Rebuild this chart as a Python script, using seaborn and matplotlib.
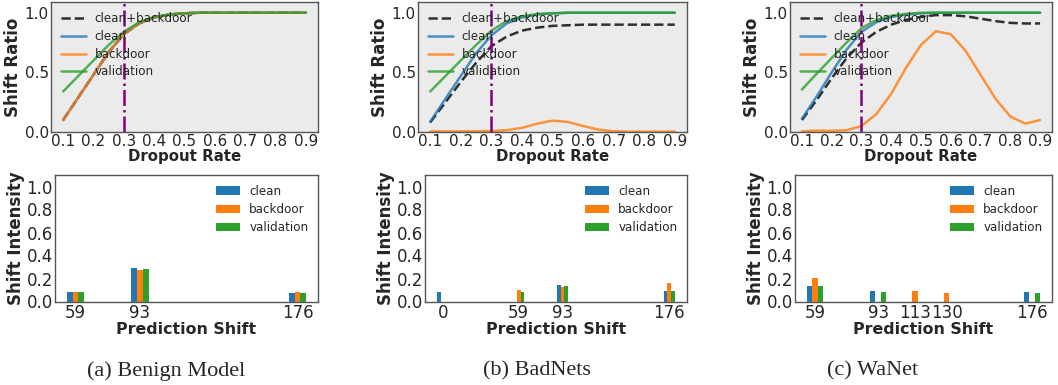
import numpy as np
import matplotlib
matplotlib.use("Agg")
import matplotlib.pyplot as plt
import seaborn as sns

# ---------------- data ----------------
dropout = [0.10, 0.15, 0.20, 0.25, 0.30, 0.35, 0.40, 0.45, 0.50,
           0.55, 0.60, 0.65, 0.70, 0.75, 0.80, 0.85, 0.90]

# (a) Benign model
benign_mix = [0.10, 0.29, 0.48, 0.67, 0.82, 0.91, 0.96, 0.985, 0.995,
              1.0, 1.0, 1.0, 1.0, 1.0, 1.0, 1.0, 1.0]
benign_clean = [0.10, 0.29, 0.48, 0.67, 0.82, 0.91, 0.96, 0.985, 0.995,
                1.0, 1.0, 1.0, 1.0, 1.0, 1.0, 1.0, 1.0]
benign_backdoor = [0.10, 0.29, 0.48, 0.67, 0.82, 0.91, 0.96, 0.985, 0.995,
                   1.0, 1.0, 1.0, 1.0, 1.0, 1.0, 1.0, 1.0]
benign_val = [0.34, 0.47, 0.60, 0.73, 0.84, 0.92, 0.965, 0.985, 0.995,
              1.0, 1.0, 1.0, 1.0, 1.0, 1.0, 1.0, 1.0]

# (b) BadNets
badnets_mix = [0.08, 0.25, 0.42, 0.58, 0.72, 0.80, 0.85, 0.875, 0.89,
               0.895, 0.90, 0.90, 0.90, 0.90, 0.90, 0.90, 0.90]
badnets_clean = [0.085, 0.28, 0.47, 0.66, 0.81, 0.91, 0.96, 0.985, 0.995,
                 1.0, 1.0, 1.0, 1.0, 1.0, 1.0, 1.0, 1.0]
badnets_backdoor = [0.005, 0.005, 0.005, 0.006, 0.008, 0.015, 0.035, 0.07, 0.095,
                    0.085, 0.05, 0.02, 0.006, 0.003, 0.003, 0.003, 0.003]
badnets_val = [0.34, 0.47, 0.60, 0.73, 0.85, 0.93, 0.97, 0.99, 0.995,
               1.0, 1.0, 1.0, 1.0, 1.0, 1.0, 1.0, 1.0]

# (c) WaNet
wanet_mix = [0.10, 0.27, 0.45, 0.62, 0.75, 0.84, 0.90, 0.94, 0.965,
             0.98, 0.98, 0.97, 0.95, 0.93, 0.915, 0.91, 0.91]
wanet_clean = [0.11, 0.30, 0.50, 0.69, 0.84, 0.92, 0.965, 0.985, 0.995,
               1.0, 1.0, 1.0, 1.0, 1.0, 1.0, 1.0, 1.0]
wanet_backdoor = [0.005, 0.012, 0.01, 0.015, 0.05, 0.15, 0.32, 0.54, 0.73,
                  0.845, 0.82, 0.68, 0.48, 0.28, 0.13, 0.07, 0.10]
wanet_val = [0.356, 0.49, 0.62, 0.75, 0.87, 0.94, 0.975, 0.99, 1.0,
             1.0, 1.0, 1.0, 1.0, 1.0, 1.0, 1.0, 1.0]

# bar charts: prediction shift -> intensity
benign_shift = [59, 93, 176]
benign_bar_clean = [0.08, 0.29, 0.07]
benign_bar_backdoor = [0.08, 0.27, 0.08]
benign_bar_val = [0.08, 0.28, 0.07]

badnets_shift = [0, 59, 93, 176]
badnets_bar_clean = [0.08, 0.0, 0.145, 0.09]
badnets_bar_backdoor = [0.0, 0.10, 0.13, 0.16]
badnets_bar_val = [0.0, 0.08, 0.135, 0.09]

wanet_shift = [59, 93, 113, 130, 176]
wanet_bar_clean = [0.135, 0.09, 0.0, 0.0, 0.085]
wanet_bar_backdoor = [0.205, 0.0, 0.09, 0.07, 0.0]
wanet_bar_val = [0.135, 0.085, 0.0, 0.0, 0.07]

captions = ["(a) Benign Model", "(b) BadNets", "(c) WaNet"]
threshold = 0.3

# ---------------- style ----------------
sns.set_style("white")
plt.rcParams["font.family"] = ["DejaVu Sans"]

blue, orange, green = sns.color_palette("tab10")[:3]

W, H = 1058, 385
fig = plt.figure(figsize=(W / 100, H / 100), dpi=100)

top_boxes = [(51, 318), (418, 687), (790, 1052)]
bot_boxes = [(55, 318), (425, 687), (795, 1052)]
top_y = (2, 132)
bot_y = (175, 301.5)


def make_ax(xb, yb):
    return fig.add_axes([xb[0] / W, 1 - yb[1] / H, (xb[1] - xb[0]) / W,
                         (yb[1] - yb[0]) / H])


line_sets = [
    (benign_mix, benign_clean, benign_backdoor, benign_val),
    (badnets_mix, badnets_clean, badnets_backdoor, badnets_val),
    (wanet_mix, wanet_clean, wanet_backdoor, wanet_val),
]
bar_sets = [
    (benign_shift, benign_bar_clean, benign_bar_backdoor, benign_bar_val),
    (badnets_shift, badnets_bar_clean, badnets_bar_backdoor, badnets_bar_val),
    (wanet_shift, wanet_bar_clean, wanet_bar_backdoor, wanet_bar_val),
]
caption_x = [166, 537, 873]

for i in range(3):
    # ---- top: shift ratio curves ----
    ax = make_ax(top_boxes[i], top_y)
    ax.set_facecolor("#EBEBEB")
    mix, cl, bd, va = line_sets[i]
    sns.lineplot(x=dropout, y=mix, ax=ax, color="black", alpha=0.8,
                 linestyle="--", lw=1.8, label="clean+backdoor")
    sns.lineplot(x=dropout, y=cl, ax=ax, color=blue, alpha=0.8, lw=1.8,
                 label="clean")
    sns.lineplot(x=dropout, y=bd, ax=ax, color=orange, alpha=0.8, lw=1.8,
                 label="backdoor")
    sns.lineplot(x=dropout, y=va, ax=ax, color=green, alpha=0.8, lw=1.8,
                 label="validation")
    ax.axvline(threshold, color="purple", linestyle="-.", lw=1.8)
    ax.set_ylim(0, 1.09)
    ax.set_xticks([0.1, 0.2, 0.3, 0.4, 0.5, 0.6, 0.7, 0.8, 0.9])
    ax.set_yticks([0.0, 0.5, 1.0])
    ax.tick_params(axis="both", length=0, labelsize=11, pad=1.5)
    ax.set_xlabel("Dropout Rate", fontsize=10.8, fontweight="bold", labelpad=0)
    ax.set_ylabel("Shift Ratio", fontsize=12, fontweight="bold", labelpad=2)
    ax.legend(loc="upper left", frameon=False, fontsize=8.6, labelspacing=0.4,
              handlelength=2.1, handletextpad=0.7, borderaxespad=0.55,
              borderpad=0.3)
    for s in ax.spines.values():
        s.set_color("#555555")
        s.set_linewidth(1.0)

    # ---- bottom: shift intensity bars ----
    bx = make_ax(bot_boxes[i], bot_y)
    sh, bc, bb, bv = bar_sets[i]
    sh = np.asarray(sh, dtype=float)
    bx.bar(sh - 3, bc, width=3, color=blue, linewidth=0, label="clean")
    bx.bar(sh, bb, width=3, color=orange, linewidth=0, label="backdoor")
    bx.bar(sh + 3, bv, width=3, color=green, linewidth=0, label="validation")
    bx.set_ylim(0, 1.1)
    bx.set_xticks(sh)
    bx.set_xticklabels([str(int(v)) for v in sh])
    bx.set_yticks([0.0, 0.2, 0.4, 0.6, 0.8, 1.0])
    bx.tick_params(axis="both", length=0, labelsize=12, pad=1.5)
    bx.set_xlabel("Prediction Shift", fontsize=11.4, fontweight="bold",
                  labelpad=0)
    bx.set_ylabel("Shift Intensity", fontsize=12, fontweight="bold", labelpad=1)
    bx.legend(loc="upper right", frameon=False, fontsize=8.6, labelspacing=0.45,
              handlelength=2.0, handletextpad=0.8, borderaxespad=0.4)
    for s in bx.spines.values():
        s.set_color("#555555")
        s.set_linewidth(1.0)

    fig.text(caption_x[i] / W, 1 - 371 / H, captions[i], ha="center",
             va="center", fontsize=16, family="Liberation Serif")

fig.savefig("out.png", dpi=100)
